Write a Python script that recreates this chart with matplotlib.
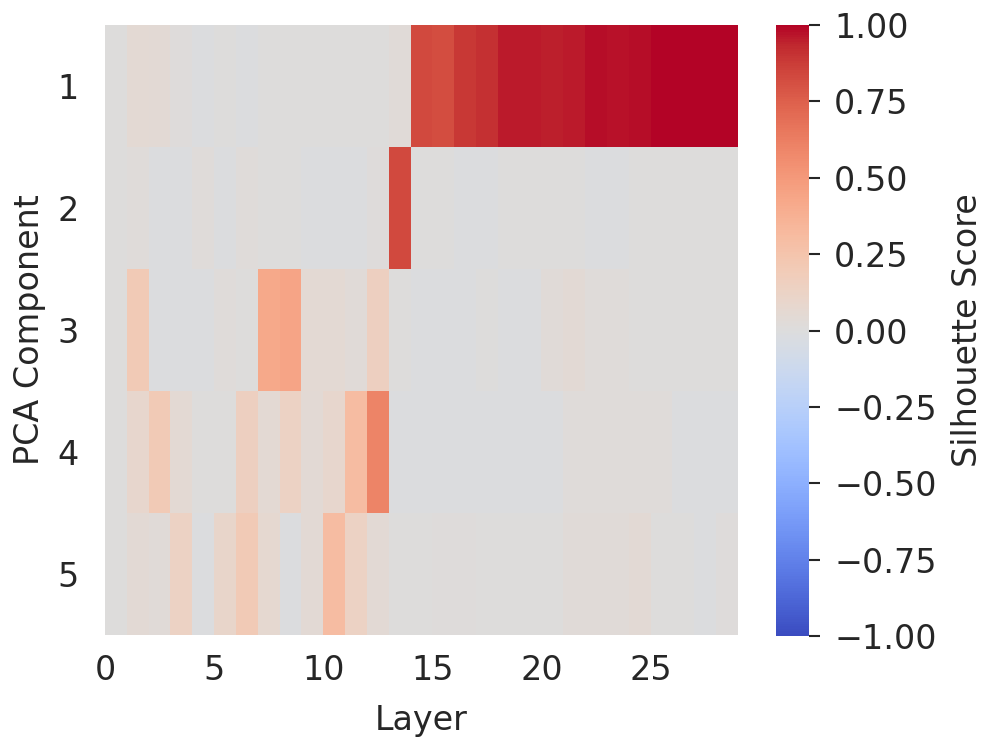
import numpy as np
import matplotlib
matplotlib.use("Agg")
import matplotlib.pyplot as plt
import seaborn as sns

# Silhouette score per layer (columns 0..28) for each PCA component
components = [1, 2, 3, 4, 5]
pc1 = [0.00, 0.05, 0.04, 0.01, -0.01, 0.00, -0.01, 0.00, 0.00, 0.00, 0.00, 0.00, 0.00, 0.03,
       0.83, 0.82, 0.89, 0.91, 0.96, 0.96, 0.95, 0.96, 0.98, 0.97, 0.98, 1.00, 1.00, 1.00, 1.00]
pc2 = [0.00, 0.02, -0.01, -0.01, 0.02, -0.01, 0.02, 0.00, 0.00, -0.01, -0.01, -0.01, 0.01, 0.83,
       0.00, 0.00, -0.01, -0.01, 0.00, 0.00, 0.00, 0.00, -0.01, -0.01, 0.00, 0.00, 0.00, 0.00, 0.00]
pc3 = [0.00, 0.20, -0.01, -0.01, -0.01, 0.02, 0.00, 0.42, 0.44, 0.05, 0.05, 0.03, 0.15, 0.00,
       -0.01, -0.01, -0.01, 0.00, -0.01, -0.01, 0.03, 0.04, 0.02, 0.02, 0.00, 0.00, 0.00, 0.00, 0.00]
pc4 = [0.00, 0.08, 0.20, 0.05, 0.00, 0.00, 0.15, 0.05, 0.13, 0.04, 0.08, 0.30, 0.60, -0.01,
       -0.01, -0.01, -0.01, -0.01, -0.01, -0.01, -0.01, 0.02, 0.02, 0.02, 0.02, 0.02, -0.01, -0.01, -0.01]
pc5 = [0.00, 0.04, 0.03, 0.13, -0.01, 0.10, 0.20, 0.07, -0.01, 0.04, 0.30, 0.13, 0.04, 0.00,
       0.00, 0.01, 0.01, 0.00, 0.00, 0.00, 0.00, 0.03, 0.03, 0.03, 0.04, 0.00, 0.00, -0.01, 0.01]

scores = np.array([pc1, pc2, pc3, pc4, pc5])
n_layers = scores.shape[1]

sns.set_theme(style="white")
plt.rcParams["font.family"] = ["DejaVu Sans"]
text_color = "#262626"
fs = 24

fig = plt.figure(figsize=(9.82, 7.43), dpi=100)
ax = fig.add_axes([105 / 982, 108 / 743, 633 / 982, 610 / 743])
cax = fig.add_axes([776 / 982, 107 / 743, 33 / 982, 611 / 743])

im = ax.imshow(scores, cmap="coolwarm", vmin=-1, vmax=1, aspect="auto",
               interpolation="nearest", extent=[0, n_layers, 5.5, 0.5])
ax.set_xticks([0, 5, 10, 15, 20, 25])
ax.set_yticks(components)
ax.tick_params(axis="x", labelsize=fs, colors=text_color, length=0, pad=14)
ax.tick_params(axis="y", labelsize=fs, colors=text_color, length=0, pad=19)
ax.set_xlabel("Layer", fontsize=fs, color=text_color, labelpad=12)
ax.set_ylabel("PCA Component", fontsize=fs, color=text_color, labelpad=8)
for s in ax.spines.values():
    s.set_visible(False)

ticks = np.arange(-1, 1.01, 0.25)
cb = fig.colorbar(im, cax=cax, ticks=ticks)
cb.outline.set_visible(False)
cb.ax.set_yticklabels([f"{t:.2f}".replace("-", "\u2212") for t in ticks])
cb.ax.tick_params(labelsize=fs, colors=text_color, length=8, width=1.5, pad=10)
cb.set_label("Silhouette Score", fontsize=fs, color=text_color, labelpad=10)

plt.savefig("out.png", dpi=100)
plt.close()
